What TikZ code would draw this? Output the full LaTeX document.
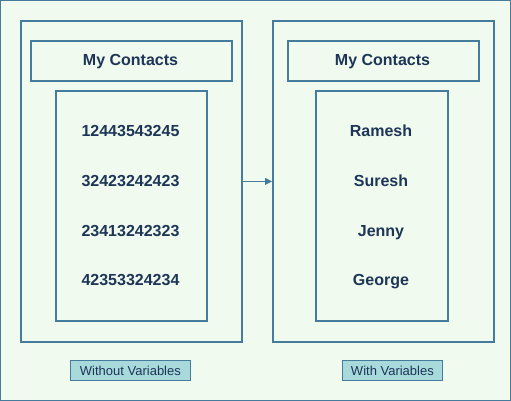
\documentclass[tikz,border=0pt]{standalone}
\usepackage{fontspec}
\setmainfont{Liberation Sans}
\usetikzlibrary{arrows.meta}
\definecolor{bgc}{HTML}{F1FAEE}
\definecolor{edge}{HTML}{457B9D}
\definecolor{txt}{HTML}{1D3557}
\definecolor{lbl}{HTML}{A8DADC}
\tikzset{
  x=1pt,y=-1pt,
  box/.style={draw=edge,line width=1.8pt,fill=bgc,inner sep=0pt,anchor=north west},
  entry/.style={text=txt,font=\fontsize{16}{19}\selectfont\bfseries,inner sep=0pt,anchor=base},
  headtxt/.style={text=txt,font=\fontsize{16}{19}\selectfont\bfseries},
  tag/.style={draw=edge,line width=0.8pt,fill=lbl,text=txt,font=\fontsize{13}{15}\selectfont,inner sep=0pt,anchor=north west},
  conn/.style={draw=edge,line width=0.9pt,-{Triangle[length=7pt,width=7pt]}}
}
\begin{document}
\begin{tikzpicture}
\path[fill=bgc,draw=edge,line width=1.2pt] (0.6,0.6) rectangle (510.4,400.4);
\useasboundingbox (0,0) rectangle (511,401);
% left
\node[box,minimum width=221pt,minimum height=321pt] (lout) at (20,20) {};
\node[box,minimum width=201pt,minimum height=40pt] (lhead) at (30,40) {};
\node[entry] (lht) at (130.5,66) {My Contacts};
\node[box,minimum width=151pt,minimum height=230pt] (lin) at (55,90) {};
\node[entry] (l1) at (130.5,136) {12443543245};
\node[entry] (l2) at (130.5,186) {32423242423};
\node[entry] (l3) at (130.5,236) {23413242323};
\node[entry] (l4) at (130.5,285) {42353324234};
% right
\node[box,minimum width=221pt,minimum height=321pt] (rout) at (272,20) {};
\node[box,minimum width=191pt,minimum height=40pt] (rhead) at (287,40) {};
\node[entry] (rht) at (382.5,66) {My Contacts};
\node[box,minimum width=132pt,minimum height=230pt] (rin) at (315,90) {};
\node[entry] (r1) at (381,136) {Ramesh};
\node[entry] (r2) at (381,186) {Suresh};
\node[entry] (r3) at (381,236) {Jenny};
\node[entry] (r4) at (381,285) {George};
% labels
\node[tag,minimum width=120pt,minimum height=20pt] (ltag) at (70,360) {Without Variables};
\node[tag,minimum width=100pt,minimum height=20pt] (rtag) at (342,360) {With Variables};
% arrow
\draw[conn] (lout.east) -- (rout.west);
\end{tikzpicture}
\end{document}
